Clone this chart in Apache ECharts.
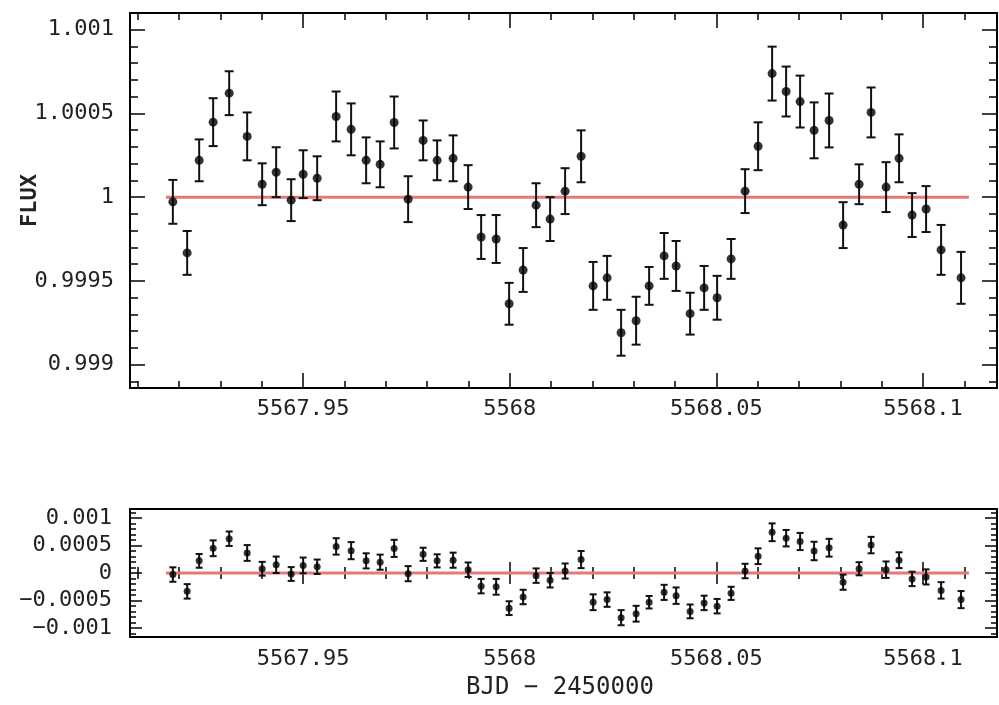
<!DOCTYPE html>
<html><head><meta charset="utf-8">
<script src="https://cdn.jsdelivr.net/npm/echarts@6/dist/echarts.min.js"></script>
<style>html,body{margin:0;padding:0;background:#fff}#c{width:999px;height:705px}</style>
</head><body><div id="c"></div>
<script>
// ---- data ----
const bjd = [5567.91847, 5567.92193, 5567.92484, 5567.92822, 5567.93210, 5567.93645, 5567.94008, 5567.94347,
  5567.94710, 5567.95000, 5567.95339, 5567.95798, 5567.96161, 5567.96524, 5567.96863, 5567.97202,
  5567.97540, 5567.97903, 5567.98242, 5567.98629, 5567.98992, 5567.99307, 5567.99670, 5567.99984,
  5568.00323, 5568.00637, 5568.00976, 5568.01339, 5568.01726, 5568.02017, 5568.02355, 5568.02694,
  5568.03057, 5568.03372, 5568.03735, 5568.04025, 5568.04364, 5568.04703, 5568.05017, 5568.05356,
  5568.05694, 5568.06009, 5568.06348, 5568.06687, 5568.07025, 5568.07364, 5568.07727, 5568.08066,
  5568.08453, 5568.08743, 5568.09106, 5568.09420, 5568.09735, 5568.10074, 5568.10437, 5568.10920];
const flux = [0.999972, 0.999667, 1.000220, 1.000448, 1.000621, 1.000363, 1.000077, 1.000149,
  0.999982, 1.000137, 1.000113, 1.000482, 1.000405, 1.000220, 1.000196, 1.000446,
  0.999988, 1.000339, 1.000220, 1.000232, 1.000060, 0.999762, 0.999750, 0.999363,
  0.999565, 0.999952, 0.999869, 1.000036, 1.000244, 0.999470, 0.999518, 0.999190,
  0.999262, 0.999470, 0.999649, 0.999589, 0.999304, 0.999458, 0.999399, 0.999631,
  1.000036, 1.000304, 1.000738, 1.000631, 1.000571, 1.000399, 1.000458, 0.999833,
  1.000077, 1.000506, 1.000060, 1.000232, 0.999893, 0.999929, 0.999685, 0.999518];
const fluxErr = [0.000131, 0.000131, 0.000125, 0.000143, 0.000131, 0.000143, 0.000125, 0.000149,
  0.000125, 0.000143, 0.000131, 0.000149, 0.000155, 0.000137, 0.000137, 0.000155,
  0.000137, 0.000119, 0.000119, 0.000137, 0.000131, 0.000131, 0.000143, 0.000125,
  0.000131, 0.000131, 0.000131, 0.000137, 0.000155, 0.000143, 0.000131, 0.000137,
  0.000143, 0.000113, 0.000137, 0.000149, 0.000125, 0.000131, 0.000131, 0.000119,
  0.000131, 0.000143, 0.000161, 0.000149, 0.000155, 0.000167, 0.000161, 0.000137,
  0.000119, 0.000149, 0.000149, 0.000143, 0.000131, 0.000137, 0.000149, 0.000155];
const residuals = [-0.000028, -0.000333, 0.000220, 0.000448, 0.000621, 0.000363, 0.000077, 0.000149,
  -0.000018, 0.000137, 0.000113, 0.000482, 0.000405, 0.000220, 0.000196, 0.000446,
  -0.000012, 0.000339, 0.000220, 0.000232, 0.000060, -0.000238, -0.000250, -0.000637,
  -0.000435, -0.000048, -0.000131, 0.000036, 0.000244, -0.000530, -0.000482, -0.000810,
  -0.000738, -0.000530, -0.000351, -0.000411, -0.000696, -0.000542, -0.000601, -0.000369,
  0.000036, 0.000304, 0.000738, 0.000631, 0.000571, 0.000399, 0.000458, -0.000167,
  0.000077, 0.000506, 0.000060, 0.000232, -0.000107, -0.000071, -0.000315, -0.000482];
const residErr = fluxErr;
const modelBjd = [5567.9168, 5568.1111];
const modelFlux = [1, 1];
const modelResid = [0, 0];

// ---- ticks / labels ----
const xTickValues = [5567.95, 5568, 5568.05, 5568.1];
const xTickLabels = ['5567.95', '5568', '5568.05', '5568.1'];
const fluxTickValues = [0.999, 0.9995, 1, 1.0005, 1.001];
const fluxTickLabels = ['0.999', '0.9995', '1', '1.0005', '1.001'];
const residTickValues = [-0.001, -0.0005, 0, 0.0005, 0.001];
const residTickLabels = ['\u22120.001', '\u22120.0005', '0', '0.0005', '0.001'];
const xTitle = 'BJD \u2212 2450000';
const yTitle = 'FLUX';
function steps(a, n, d, dec) { const r = []; for (let i = 0; i < n; i++) r.push(+(a + i * d).toFixed(dec)); return r; }
const xMinorValues = steps(5567.91, 21, 0.01, 2);
const fluxMinorValues = steps(0.9989, 23, 0.0001, 4);
const residMinorValues = steps(-0.0011, 23, 0.0001, 4);

const X_MIN = 5567.9081, X_MAX = 5568.1179;
const F_MIN = 0.99886, F_MAX = 1.0011;
const R_MIN = -0.00116, R_MAX = 0.00116;
const FONT = 'DejaVu Sans Mono';

function lookup(v, vals, texts) {
  for (let i = 0; i < vals.length; i++) if (Math.abs(vals[i] - v) < 1e-9) return texts[i];
  return '';
}
function axis(gridIndex, position, min, max, tickVals, tickLen, labelVals, labelTexts, margin, extra) {
  const a = {
    type: 'value', gridIndex, position, min, max,
    axisLine: { show: false }, splitLine: { show: false },
    axisTick: { show: true, inside: true, length: tickLen, customValues: tickVals, lineStyle: { color: '#000', width: 1.5 } },
    axisLabel: labelVals ? {
      show: true, customValues: labelVals, formatter: v => lookup(v, labelVals, labelTexts),
      fontFamily: FONT, fontSize: 22, color: '#222', margin, hideOverlap: false
    } : { show: false }
  };
  return Object.assign(a, extra || {});
}
function errorBars(xi, yi, xs, ys, es, cap, lw) {
  return {
    type: 'custom', xAxisIndex: xi, yAxisIndex: yi, silent: true, z: 3,
    data: xs.map((x, i) => [x, ys[i], es[i]]),
    encode: { x: 0, y: 1 },
    renderItem(params, api) {
      const x = api.value(0), y = api.value(1), e = api.value(2);
      const t = api.coord([x, y + e]), b = api.coord([x, y - e]);
      const style = { stroke: '#111', lineWidth: lw };
      return { type: 'group', children: [
        { type: 'line', shape: { x1: t[0], y1: t[1], x2: b[0], y2: b[1] }, style },
        { type: 'line', shape: { x1: t[0] - cap, y1: t[1], x2: t[0] + cap, y2: t[1] }, style },
        { type: 'line', shape: { x1: b[0] - cap, y1: b[1], x2: b[0] + cap, y2: b[1] }, style }
      ] };
    }
  };
}

const chart = echarts.init(document.getElementById('c'));
chart.setOption({
  animation: false,
  backgroundColor: '#fff',
  graphic: [
    { type: 'text', left: 466, top: 676, style: { text: xTitle, font: '24px "DejaVu Sans Mono"', fill: '#222' } },
    { type: 'text', x: 19, y: 227, rotation: Math.PI / 2,
      style: { text: yTitle, font: 'bold 22px "DejaVu Sans Mono"', fill: '#222' } }
  ],
  grid: [
    { left: 130, top: 13, right: 2, height: 375, show: true, borderColor: '#000', borderWidth: 2,
      containLabel: false, outerBoundsMode: 'none' },
    { left: 130, top: 509, right: 2, height: 128, show: true, borderColor: '#000', borderWidth: 2,
      containLabel: false, outerBoundsMode: 'none' }
  ],
  xAxis: [
    axis(0, 'bottom', X_MIN, X_MAX, xTickValues, 15, xTickValues, xTickLabels, 10),
    axis(0, 'bottom', X_MIN, X_MAX, xMinorValues, 7),
    axis(0, 'top', X_MIN, X_MAX, xTickValues, 15),
    axis(0, 'top', X_MIN, X_MAX, xMinorValues, 7),
    axis(1, 'bottom', X_MIN, X_MAX, xTickValues, 11, xTickValues, xTickLabels, 11),
    axis(1, 'bottom', X_MIN, X_MAX, xMinorValues, 6),
    axis(1, 'top', X_MIN, X_MAX, xTickValues, 11),
    axis(1, 'top', X_MIN, X_MAX, xMinorValues, 6)
  ],
  yAxis: [
    axis(0, 'left', F_MIN, F_MAX, fluxTickValues, 15, fluxTickValues, fluxTickLabels, 16),
    axis(0, 'left', F_MIN, F_MAX, fluxMinorValues, 8),
    axis(0, 'right', F_MIN, F_MAX, fluxTickValues, 15),
    axis(0, 'right', F_MIN, F_MAX, fluxMinorValues, 8),
    axis(1, 'left', R_MIN, R_MAX, residTickValues, 12, residTickValues, residTickLabels, 18),
    axis(1, 'left', R_MIN, R_MAX, residMinorValues, 6),
    axis(1, 'right', R_MIN, R_MAX, residTickValues, 12),
    axis(1, 'right', R_MIN, R_MAX, residMinorValues, 6)
  ],
  series: [
    { type: 'line', xAxisIndex: 0, yAxisIndex: 0, data: modelBjd.map((x, i) => [x, modelFlux[i]]),
      symbol: 'none', lineStyle: { color: '#e87878', width: 3 }, z: 2, silent: true },
    errorBars(0, 0, bjd, flux, fluxErr, 4.5, 2),
    { type: 'scatter', xAxisIndex: 0, yAxisIndex: 0, data: bjd.map((x, i) => [x, flux[i]]),
      symbol: 'circle', symbolSize: 9, itemStyle: { color: '#000' }, z: 4, silent: true },
    { type: 'line', xAxisIndex: 4, yAxisIndex: 4, data: modelBjd.map((x, i) => [x, modelResid[i]]),
      symbol: 'none', lineStyle: { color: '#e87878', width: 3 }, z: 2, silent: true },
    errorBars(4, 4, bjd, residuals, residErr, 3.5, 2),
    { type: 'scatter', xAxisIndex: 4, yAxisIndex: 4, data: bjd.map((x, i) => [x, residuals[i]]),
      symbol: 'circle', symbolSize: 7, itemStyle: { color: '#000' }, z: 4, silent: true }
  ]
});
</script></body></html>
